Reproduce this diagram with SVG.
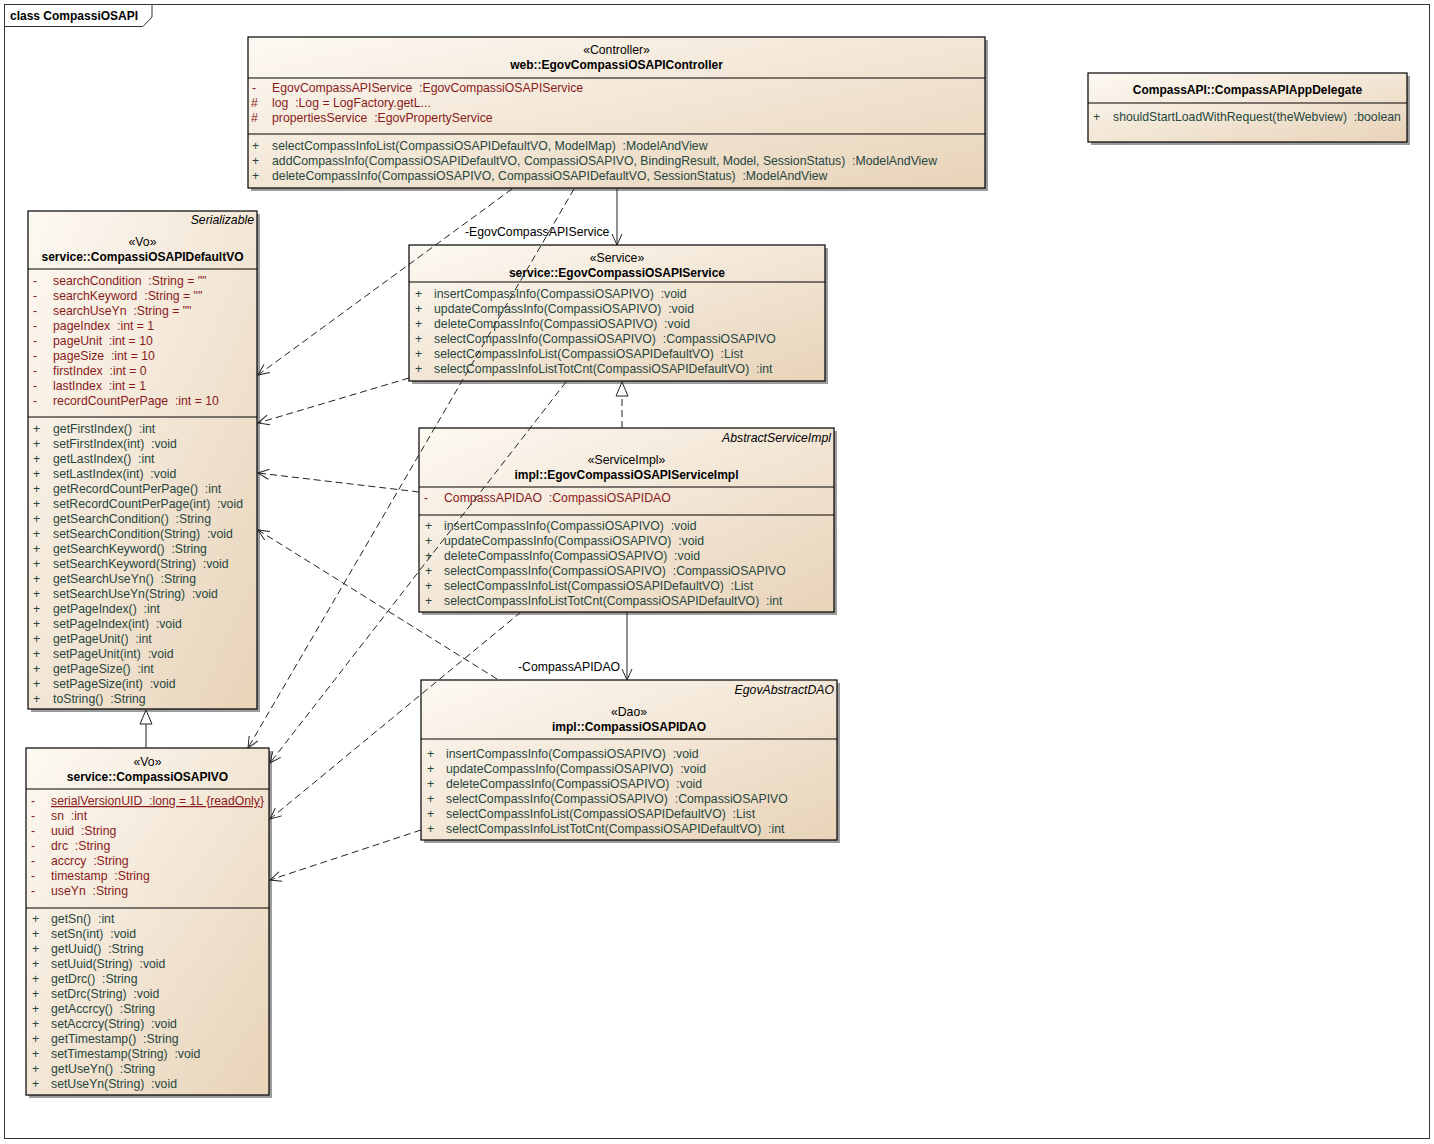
<svg xmlns="http://www.w3.org/2000/svg" width="1434" height="1144" viewBox="0 0 1434 1144">
<style>
text{font-family:"Liberation Sans",Arial,sans-serif;font-size:12.25px;fill:#000;white-space:pre}
.b{font-weight:bold;font-size:12px}
.c{text-anchor:middle}
.i{font-style:italic;text-anchor:end}
.a{fill:#8a1a1a}
.m{fill:#27463e}
.box{fill:url(#g);stroke:#000;stroke-width:1.2}
.sh{fill:#9c9c9c}
.dv{stroke:#000;stroke-width:1}
.dep{fill:none;stroke:#222;stroke-width:1;stroke-dasharray:7,4}
.sol{fill:none;stroke:#222;stroke-width:1}
</style>
<defs>
<linearGradient id="g" x1="0" y1="0" x2="1" y2="1">
<stop offset="0" stop-color="#fdf9f3"/>
<stop offset="1" stop-color="#e8d3b8"/>
</linearGradient>
<marker id="ar" markerWidth="14" markerHeight="12" refX="12" refY="6" orient="auto" markerUnits="userSpaceOnUse">
<path d="M1,1 L12,6 L1,11" fill="none" stroke="#222" stroke-width="1"/>
</marker>
</defs>
<rect x="0" y="0" width="1434" height="1144" fill="#fff"/>
<g id="frame">
<rect x="4.5" y="4.5" width="1425" height="1134" fill="none" stroke="#333" stroke-width="1"/>
<path d="M4.5,26.5 L143,26.5 L152,17 L152,4.5" fill="none" stroke="#333" stroke-width="1"/>
<text x="10" y="20" class="b">class CompassiOSAPI</text>
</g>

<g id="controller">
<rect class="sh" x="251" y="40" width="737" height="151"/>
<rect class="box" x="248" y="37" width="737" height="151"/>
<text x="616.5" y="54" class="c">«Controller»</text>
<text x="616.5" y="69" class="c b">web::EgovCompassiOSAPIController</text>
<line class="dv" x1="248" y1="78" x2="985" y2="78"/>
<text x="252" y="92" class="a">-</text><text x="272" y="92" class="a">EgovCompassAPIService  :EgovCompassiOSAPIService</text>
<text x="251" y="107" class="a">#</text><text x="272" y="107" class="a">log  :Log = LogFactory.getL...</text>
<text x="251" y="122" class="a">#</text><text x="272" y="122" class="a">propertiesService  :EgovPropertyService</text>
<line class="dv" x1="248" y1="134" x2="985" y2="134"/>
<text x="252" y="150" class="m">+</text><text x="272" y="150" class="m">selectCompassInfoList(CompassiOSAPIDefaultVO, ModelMap)  :ModelAndView</text>
<text x="252" y="165" class="m">+</text><text x="272" y="165" class="m">addCompassInfo(CompassiOSAPIDefaultVO, CompassiOSAPIVO, BindingResult, Model, SessionStatus)  :ModelAndView</text>
<text x="252" y="180" class="m">+</text><text x="272" y="180" class="m">deleteCompassInfo(CompassiOSAPIVO, CompassiOSAPIDefaultVO, SessionStatus)  :ModelAndView</text>
</g>

<g id="delegate">
<rect class="sh" x="1091" y="76" width="319" height="69"/>
<rect class="box" x="1088" y="73" width="319" height="69"/>
<text x="1247.5" y="94" class="c b">CompassAPI::CompassAPIAppDelegate</text>
<line class="dv" x1="1088" y1="103" x2="1407" y2="103"/>
<text x="1093" y="121" class="m">+</text><text x="1113" y="121" class="m">shouldStartLoadWithRequest(theWebview)  :boolean</text>
</g>

<g id="defaultvo">
<rect class="sh" x="31" y="214" width="229" height="498"/>
<rect class="box" x="28" y="211" width="229" height="498"/>
<text x="254" y="224" class="i">Serializable</text>
<text x="142.5" y="246" class="c">«Vo»</text>
<text x="142.5" y="261" class="c b">service::CompassiOSAPIDefaultVO</text>
<line class="dv" x1="28" y1="269" x2="257" y2="269"/>
<text x="33" y="285" class="a">-</text><text x="53" y="285" class="a">searchCondition  :String = ""</text>
<text x="33" y="300" class="a">-</text><text x="53" y="300" class="a">searchKeyword  :String = ""</text>
<text x="33" y="315" class="a">-</text><text x="53" y="315" class="a">searchUseYn  :String = ""</text>
<text x="33" y="330" class="a">-</text><text x="53" y="330" class="a">pageIndex  :int = 1</text>
<text x="33" y="345" class="a">-</text><text x="53" y="345" class="a">pageUnit  :int = 10</text>
<text x="33" y="360" class="a">-</text><text x="53" y="360" class="a">pageSize  :int = 10</text>
<text x="33" y="375" class="a">-</text><text x="53" y="375" class="a">firstIndex  :int = 0</text>
<text x="33" y="390" class="a">-</text><text x="53" y="390" class="a">lastIndex  :int = 1</text>
<text x="33" y="405" class="a">-</text><text x="53" y="405" class="a">recordCountPerPage  :int = 10</text>
<line class="dv" x1="28" y1="417" x2="257" y2="417"/>
<text x="33" y="433" class="m">+</text><text x="53" y="433" class="m">getFirstIndex()  :int</text>
<text x="33" y="448" class="m">+</text><text x="53" y="448" class="m">setFirstIndex(int)  :void</text>
<text x="33" y="463" class="m">+</text><text x="53" y="463" class="m">getLastIndex()  :int</text>
<text x="33" y="478" class="m">+</text><text x="53" y="478" class="m">setLastIndex(int)  :void</text>
<text x="33" y="493" class="m">+</text><text x="53" y="493" class="m">getRecordCountPerPage()  :int</text>
<text x="33" y="508" class="m">+</text><text x="53" y="508" class="m">setRecordCountPerPage(int)  :void</text>
<text x="33" y="523" class="m">+</text><text x="53" y="523" class="m">getSearchCondition()  :String</text>
<text x="33" y="538" class="m">+</text><text x="53" y="538" class="m">setSearchCondition(String)  :void</text>
<text x="33" y="553" class="m">+</text><text x="53" y="553" class="m">getSearchKeyword()  :String</text>
<text x="33" y="568" class="m">+</text><text x="53" y="568" class="m">setSearchKeyword(String)  :void</text>
<text x="33" y="583" class="m">+</text><text x="53" y="583" class="m">getSearchUseYn()  :String</text>
<text x="33" y="598" class="m">+</text><text x="53" y="598" class="m">setSearchUseYn(String)  :void</text>
<text x="33" y="613" class="m">+</text><text x="53" y="613" class="m">getPageIndex()  :int</text>
<text x="33" y="628" class="m">+</text><text x="53" y="628" class="m">setPageIndex(int)  :void</text>
<text x="33" y="643" class="m">+</text><text x="53" y="643" class="m">getPageUnit()  :int</text>
<text x="33" y="658" class="m">+</text><text x="53" y="658" class="m">setPageUnit(int)  :void</text>
<text x="33" y="673" class="m">+</text><text x="53" y="673" class="m">getPageSize()  :int</text>
<text x="33" y="688" class="m">+</text><text x="53" y="688" class="m">setPageSize(int)  :void</text>
<text x="33" y="703" class="m">+</text><text x="53" y="703" class="m">toString()  :String</text>
</g>

<g id="service">
<rect class="sh" x="412" y="248" width="416" height="136"/>
<rect class="box" x="409" y="245" width="416" height="136"/>
<text x="617" y="262" class="c">«Service»</text>
<text x="617" y="277" class="c b">service::EgovCompassiOSAPIService</text>
<line class="dv" x1="409" y1="282" x2="825" y2="282"/>
<text x="415" y="298" class="m">+</text><text x="434" y="298" class="m">insertCompassInfo(CompassiOSAPIVO)  :void</text>
<text x="415" y="313" class="m">+</text><text x="434" y="313" class="m">updateCompassInfo(CompassiOSAPIVO)  :void</text>
<text x="415" y="328" class="m">+</text><text x="434" y="328" class="m">deleteCompassInfo(CompassiOSAPIVO)  :void</text>
<text x="415" y="343" class="m">+</text><text x="434" y="343" class="m">selectCompassInfo(CompassiOSAPIVO)  :CompassiOSAPIVO</text>
<text x="415" y="358" class="m">+</text><text x="434" y="358" class="m">selectCompassInfoList(CompassiOSAPIDefaultVO)  :List</text>
<text x="415" y="373" class="m">+</text><text x="434" y="373" class="m">selectCompassInfoListTotCnt(CompassiOSAPIDefaultVO)  :int</text>
</g>

<g id="serviceimpl">
<rect class="sh" x="422" y="431" width="415" height="184"/>
<rect class="box" x="419" y="428" width="415" height="184"/>
<text x="831" y="442" class="i">AbstractServiceImpl</text>
<text x="626.5" y="464" class="c">«ServiceImpl»</text>
<text x="626.5" y="479" class="c b">impl::EgovCompassiOSAPIServiceImpl</text>
<line class="dv" x1="419" y1="487" x2="834" y2="487"/>
<text x="424" y="502" class="a">-</text><text x="444" y="502" class="a">CompassAPIDAO  :CompassiOSAPIDAO</text>
<line class="dv" x1="419" y1="515" x2="834" y2="515"/>
<text x="425" y="530" class="m">+</text><text x="444" y="530" class="m">insertCompassInfo(CompassiOSAPIVO)  :void</text>
<text x="425" y="545" class="m">+</text><text x="444" y="545" class="m">updateCompassInfo(CompassiOSAPIVO)  :void</text>
<text x="425" y="560" class="m">+</text><text x="444" y="560" class="m">deleteCompassInfo(CompassiOSAPIVO)  :void</text>
<text x="425" y="575" class="m">+</text><text x="444" y="575" class="m">selectCompassInfo(CompassiOSAPIVO)  :CompassiOSAPIVO</text>
<text x="425" y="590" class="m">+</text><text x="444" y="590" class="m">selectCompassInfoList(CompassiOSAPIDefaultVO)  :List</text>
<text x="425" y="605" class="m">+</text><text x="444" y="605" class="m">selectCompassInfoListTotCnt(CompassiOSAPIDefaultVO)  :int</text>
</g>

<g id="dao">
<rect class="sh" x="424" y="683" width="416" height="160"/>
<rect class="box" x="421" y="680" width="416" height="160"/>
<text x="834" y="694" class="i">EgovAbstractDAO</text>
<text x="629" y="716" class="c">«Dao»</text>
<text x="629" y="731" class="c b">impl::CompassiOSAPIDAO</text>
<line class="dv" x1="421" y1="739" x2="837" y2="739"/>
<text x="427" y="758" class="m">+</text><text x="446" y="758" class="m">insertCompassInfo(CompassiOSAPIVO)  :void</text>
<text x="427" y="773" class="m">+</text><text x="446" y="773" class="m">updateCompassInfo(CompassiOSAPIVO)  :void</text>
<text x="427" y="788" class="m">+</text><text x="446" y="788" class="m">deleteCompassInfo(CompassiOSAPIVO)  :void</text>
<text x="427" y="803" class="m">+</text><text x="446" y="803" class="m">selectCompassInfo(CompassiOSAPIVO)  :CompassiOSAPIVO</text>
<text x="427" y="818" class="m">+</text><text x="446" y="818" class="m">selectCompassInfoList(CompassiOSAPIDefaultVO)  :List</text>
<text x="427" y="833" class="m">+</text><text x="446" y="833" class="m">selectCompassInfoListTotCnt(CompassiOSAPIDefaultVO)  :int</text>
</g>

<g id="pivo">
<rect class="sh" x="29" y="751" width="243" height="347"/>
<rect class="box" x="26" y="748" width="243" height="347"/>
<text x="147.5" y="766" class="c">«Vo»</text>
<text x="147.5" y="781" class="c b">service::CompassiOSAPIVO</text>
<line class="dv" x1="26" y1="789" x2="269" y2="789"/>
<text x="31" y="805" class="a">-</text><text x="51" y="805" class="a" text-decoration="underline">serialVersionUID  :long = 1L {readOnly}</text>
<text x="31" y="820" class="a">-</text><text x="51" y="820" class="a">sn  :int</text>
<text x="31" y="835" class="a">-</text><text x="51" y="835" class="a">uuid  :String</text>
<text x="31" y="850" class="a">-</text><text x="51" y="850" class="a">drc  :String</text>
<text x="31" y="865" class="a">-</text><text x="51" y="865" class="a">accrcy  :String</text>
<text x="31" y="880" class="a">-</text><text x="51" y="880" class="a">timestamp  :String</text>
<text x="31" y="895" class="a">-</text><text x="51" y="895" class="a">useYn  :String</text>
<line class="dv" x1="26" y1="908" x2="269" y2="908"/>
<text x="32" y="923" class="m">+</text><text x="51" y="923" class="m">getSn()  :int</text>
<text x="32" y="938" class="m">+</text><text x="51" y="938" class="m">setSn(int)  :void</text>
<text x="32" y="953" class="m">+</text><text x="51" y="953" class="m">getUuid()  :String</text>
<text x="32" y="968" class="m">+</text><text x="51" y="968" class="m">setUuid(String)  :void</text>
<text x="32" y="983" class="m">+</text><text x="51" y="983" class="m">getDrc()  :String</text>
<text x="32" y="998" class="m">+</text><text x="51" y="998" class="m">setDrc(String)  :void</text>
<text x="32" y="1013" class="m">+</text><text x="51" y="1013" class="m">getAccrcy()  :String</text>
<text x="32" y="1028" class="m">+</text><text x="51" y="1028" class="m">setAccrcy(String)  :void</text>
<text x="32" y="1043" class="m">+</text><text x="51" y="1043" class="m">getTimestamp()  :String</text>
<text x="32" y="1058" class="m">+</text><text x="51" y="1058" class="m">setTimestamp(String)  :void</text>
<text x="32" y="1073" class="m">+</text><text x="51" y="1073" class="m">getUseYn()  :String</text>
<text x="32" y="1088" class="m">+</text><text x="51" y="1088" class="m">setUseYn(String)  :void</text>
</g>

<g id="connectors">
<line class="dep" x1="512" y1="189" x2="258" y2="375" marker-end="url(#ar)"/>
<line class="dep" x1="574" y1="189" x2="248" y2="748" marker-end="url(#ar)"/>
<line class="dep" x1="409" y1="378" x2="258" y2="423" marker-end="url(#ar)"/>
<line class="dep" x1="566" y1="382" x2="270" y2="763" marker-end="url(#ar)"/>
<line class="dep" x1="419" y1="492" x2="258" y2="473" marker-end="url(#ar)"/>
<line class="dep" x1="521" y1="612" x2="270" y2="819" marker-end="url(#ar)"/>
<line class="dep" x1="497" y1="679" x2="258" y2="530" marker-end="url(#ar)"/>
<line class="dep" x1="421" y1="830" x2="270" y2="880" marker-end="url(#ar)"/>
<line class="sol" x1="617" y1="188" x2="617" y2="245" marker-end="url(#ar)"/>
<text x="465" y="236">-EgovCompassAPIService</text>
<line class="sol" x1="627" y1="612" x2="627" y2="680" marker-end="url(#ar)"/>
<text x="518" y="671">-CompassAPIDAO</text>
<line class="dep" x1="622" y1="428" x2="622" y2="396"/>
<polygon points="622,382 616,396 628,396" fill="#fff" stroke="#222" stroke-width="1"/>
<line class="sol" x1="146" y1="748" x2="146" y2="724"/>
<polygon points="146,710 140,724 152,724" fill="#fff" stroke="#222" stroke-width="1"/>
</g>
</svg>
